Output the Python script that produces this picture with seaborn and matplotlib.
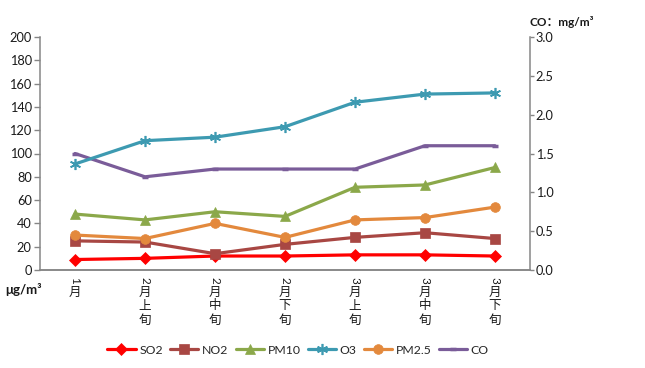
import numpy as np
import pandas as pd
import matplotlib
matplotlib.use('Agg')
import matplotlib.pyplot as plt
from matplotlib.lines import Line2D
import seaborn as sns

# data
periods = ['1月', '2月上旬', '2月中旬', '2月下旬', '3月上旬', '3月中旬', '3月下旬']
so2 = [9, 10, 12, 12, 13, 13, 12]
no2 = [25, 24, 14, 22, 28, 32, 27]
pm10 = [48, 43, 50, 46, 71, 73, 88]
o3 = [91, 111, 114, 123, 144, 151, 152]
pm25 = [30, 27, 40, 28, 43, 45, 54]
co = [1.5, 1.2, 1.3, 1.3, 1.3, 1.6, 1.6]

left_ticks = list(range(0, 201, 20))
right_ticks = [0.0, 0.5, 1.0, 1.5, 2.0, 2.5, 3.0]

sns.set_style('white')
plt.rcParams['font.family'] = ['Lato', 'Noto Sans CJK SC', 'DejaVu Sans']

colors = {'SO2': '#FF0000', 'NO2': '#A84743', 'PM10': '#8BA84A',
          'O3': '#3D9AB1', 'PM2.5': '#E3893D', 'CO': '#7A5C99'}
star = (6, 2, 0)
markers = {'SO2': 'D', 'NO2': 's', 'PM10': '^', 'O3': star, 'PM2.5': 'o', 'CO': '_'}
msizes = {'SO2': 6, 'NO2': 6.5, 'PM10': 7, 'O3': 8, 'PM2.5': 7, 'CO': 5}

pos = np.arange(len(periods))
df = pd.DataFrame({'pos': np.tile(pos, 5),
                   'value': so2 + no2 + pm10 + o3 + pm25,
                   'item': np.repeat(['SO2', 'NO2', 'PM10', 'O3', 'PM2.5'], len(periods))})
df_co = pd.DataFrame({'pos': pos, 'value': co, 'item': 'CO'})

fig = plt.figure(figsize=(6.45, 3.68), dpi=100)
ax = fig.add_axes([40 / 645, 1 - 270 / 368, 490 / 645, 233 / 368])
ax2 = ax.twinx()

# CO on the secondary axis (drawn first so it sits underneath)
for name, sub in df_co.groupby('item'):
    sns.lineplot(data=sub, x='pos', y='value', ax=ax2, color=colors[name], lw=2.3,
                 marker=markers[name], markersize=msizes[name], markeredgewidth=2.5,
                 markeredgecolor=colors[name], legend=False)

ax.set_zorder(ax2.get_zorder() + 1)
ax.patch.set_visible(False)
for name in ['SO2', 'NO2', 'PM10', 'O3', 'PM2.5']:
    sub = df[df['item'] == name]
    mew = 1.2 if name == 'O3' else 0.5
    sns.lineplot(data=sub, x='pos', y='value', ax=ax, color=colors[name], lw=2.3,
                 marker=markers[name], markersize=msizes[name], markeredgewidth=mew,
                 markeredgecolor=colors[name], legend=False)

ax.set_xlim(-0.5, 6.5)
ax.set_ylim(0, 200)
ax2.set_ylim(0, 3.0)
ax.set_yticks(left_ticks)
ax2.set_yticks(right_ticks)
ax2.set_yticklabels([f'{v:.1f}' for v in right_ticks])
ax.set_xticks(np.arange(-0.5, 7, 1))
ax.set_xticklabels([])
ax.set_xlabel('')
ax.set_ylabel('')
ax2.set_xlabel('')
ax2.set_ylabel('')

spine_c = '#868686'
for a in (ax, ax2):
    for s in a.spines.values():
        s.set_color(spine_c)
        s.set_linewidth(1.1)
    a.spines['top'].set_visible(False)
    a.tick_params(colors=spine_c, labelcolor='#1a1a1a', labelsize=9.2,
                  length=4, width=1, direction='out')
ax.spines['right'].set_visible(False)
ax2.spines['left'].set_visible(False)
ax.tick_params(axis='x', length=4)
ax.tick_params(axis='y', pad=2)
ax2.tick_params(axis='y', pad=1, length=3)

# vertical category labels: digit rotated, characters stacked
for i, lab in enumerate(periods):
    ax.annotate(lab[0], xy=(i, 0), xycoords=('data', 'axes fraction'),
                xytext=(0, -10), textcoords='offset pixels', rotation=-90,
                ha='center', va='center', fontsize=8.5, color='#1a1a1a',
                rotation_mode='anchor')
    for k, ch in enumerate(lab[1:]):
        ax.annotate(ch, xy=(i, 0), xycoords=('data', 'axes fraction'),
                    xytext=(0, -22 - 14 * k), textcoords='offset pixels',
                    ha='center', va='center', fontsize=9, color='#1a1a1a',
                    family=['Noto Sans CJK SC', 'DejaVu Sans'])

fig.text(5 / 645, 1 - 290 / 368, 'μg/m³', fontsize=9.5, fontweight='bold',
         ha='left', va='center', color='#1a1a1a')
fig.text(529 / 645, 1 - 22 / 368, 'CO：mg/m³', fontsize=8.5, fontweight='bold',
         ha='left', va='center', color='#1a1a1a',
         family=['Lato', 'Noto Sans CJK SC', 'DejaVu Sans'])

handles = []
for name in ['SO2', 'NO2', 'PM10', 'O3', 'PM2.5', 'CO']:
    mew = 1.2 if name == 'O3' else (2.5 if name == 'CO' else 0.5)
    handles.append(Line2D([], [], color=colors[name], lw=2.3, marker=markers[name],
                          markersize=msizes[name], markeredgewidth=mew,
                          markeredgecolor=colors[name], label=name))
fig.legend(handles=handles, loc='center', bbox_to_anchor=(298 / 645, 1 - 350 / 368),
           ncol=6, frameon=False, fontsize=8.8, handlelength=2.3, handletextpad=0.3,
           columnspacing=0.6, borderaxespad=0)

fig.savefig('out.png', dpi=100)
